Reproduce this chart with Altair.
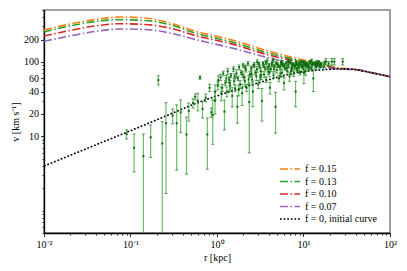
import altair as alt
import pandas as pd

FONT = "Liberation Serif"

# ---- model curves ----
r_curve = [0.01, 0.02, 0.0389, 0.0757, 0.147, 0.286, 0.557, 1.49, 3.59, 7.98, 15.5, 26.4, 39.4, 55.7, 100]
v_f015 = [269, 324, 372, 403, 390, 334, 261, 197, 145, 113, 95, 83, 79.2, 73.3, 63.4]
v_f013 = [253, 305, 350, 370, 361, 317, 245, 185, 136, 108, 92.5, 81.7, 79.2, 73.3, 63.4]
v_f010 = [223, 265, 305, 327, 319, 286, 227, 175, 128, 103, 89.6, 81, 79.2, 73.3, 63.4]
v_f007 = [190, 223, 257, 278, 273, 245, 201, 154, 117, 94, 85.5, 80, 79.2, 73.3, 63.4]
v_f0 = [3.98, 5.53, 7.6, 10.4, 14.3, 19.8, 27.4, 40.7, 55.4, 71, 78, 80.4, 79.2, 73.3, 63.4]

series_names = ["f = 0.15", "f = 0.13", "f = 0.10", "f = 0.07", "f = 0, initial curve"]
series_colors = ["#ff7f0e", "#2ca02c", "#d62728", "#9467bd", "#000000"]
series_dash = [[8, 2.5, 1.5, 2.5]] * 4 + [[1.8, 1.8]]

# ---- observed points (r [kpc], v [km/s], error) ----
obs_r = [0.090, 0.110, 0.141, 0.171, 0.210, 0.233, 0.257, 0.307, 0.342, 0.380,
         0.444, 0.471, 0.528, 0.560, 0.636, 0.680, 0.600, 0.773, 0.740, 0.820,
         0.892, 0.860, 0.950, 1.035, 1.10, 1.15, 1.18, 1.22, 1.25, 1.30,
         1.33, 1.38, 1.42, 1.45, 1.50, 1.55, 1.58, 1.62, 1.68, 1.72,
         1.75, 1.80, 1.85, 1.90, 1.95, 2.00, 2.05, 2.10, 2.15, 2.20,
         2.28, 2.36, 2.40, 2.48, 2.55, 2.60, 2.70, 2.78, 2.85, 2.92,
         3.00, 3.10, 3.20, 3.30, 3.40, 3.50, 3.60, 3.70, 3.80, 3.90,
         4.00, 4.10, 4.20, 4.35, 4.50, 4.60, 4.75, 4.90, 5.00, 5.20,
         5.35, 5.50, 5.65, 5.80, 5.95, 6.10, 6.30, 6.50, 6.70, 6.90,
         7.10, 7.30, 7.50, 7.70, 7.90, 8.10, 8.30, 8.50, 8.70, 8.90,
         9.10, 9.40, 9.70, 10.0, 10.1, 10.3, 10.6, 11.0, 11.4, 11.8,
         12.2, 12.6, 13.0, 13.5, 14.0, 14.5, 15.0, 15.5, 16.0, 17.0,
         18.2, 21.2, 22.7, 28.4,
         2.5, 2.65, 2.9, 3.05, 3.25, 3.45, 3.65, 3.85, 4.05, 4.3,
         4.55, 4.8, 5.1, 5.4, 5.7, 6.0, 6.4, 6.8, 7.2, 7.6,
         8.0, 8.4, 8.8, 9.2, 9.6, 10.2, 10.8, 11.5, 12.0, 12.8,
         13.8, 14.8, 15.8, 17.5, 19.5, 1.12, 1.28, 1.4, 1.6, 1.78,
         1.98, 2.12, 2.32, 0.95, 1.02, 3.15, 4.45, 5.55, 6.6, 7.4,
         8.2, 9.9, 11.2, 12.4, 14.2]
obs_v = [10.7, 7.0, 5.4, 9.7, 57, 8.0, 15.0, 19.0, 15.0, 21.0,
         10.6, 22, 28, 34, 61.7, 23.4, 30, 10.6, 33, 45,
         19.3, 21, 30, 57, 62, 45, 70, 21.5, 52, 40,
         75, 58, 48, 66, 35, 80, 55, 44, 70, 25,
         60, 85, 50, 72, 38, 90, 62, 55, 78, 45,
         95, 29, 68, 83, 58, 40, 92, 72, 64, 100,
         50, 86, 76, 30, 96, 68, 82, 58, 102, 74,
         90, 45, 80, 98, 66, 88, 25, 78, 94, 60,
         85, 100, 72, 90, 52, 82, 96, 75, 88, 64,
         99, 80, 92, 70, 86, 40, 95, 78, 90, 84,
         72, 98, 88, 80, 71, 92, 76, 95, 86, 100,
         82, 90, 60, 96, 85, 92, 100, 88, 94, 86,
         101, 101, 101, 101,
         70, 88, 80, 95, 66, 88, 98, 84, 72, 92,
         80, 96, 88, 70, 98, 90, 84, 100, 76, 94,
         88, 82, 98, 92, 86, 96, 90, 84, 98, 94,
         90, 97, 92, 98, 95, 38, 60, 52, 64, 42,
         68, 86, 58, 40, 48, 62, 106, 92, 104, 86,
         100, 100, 90, 104, 98]
obs_e = [1.5, 3.7, 5.3, 4.5, 8, 7.7, 13.3, 4.3, 11.5, 9.8,
         7.5, 6, 4, 3, 3.2, 5.8, 8, 7.0, 4, 5,
         11.5, 3, 10, 8, 6, 5, 5, 9.3, 4, 6,
         7, 5, 8, 4, 10, 6, 5, 4, 8, 10,
         4, 6, 6, 5, 12, 6, 5, 8, 5, 5,
         6, 23, 6, 5, 10, 15, 6, 5, 8, 7,
         6, 5, 8, 14, 5, 6, 5, 5, 8, 6,
         5, 8, 6, 6, 5, 4, 14, 7, 5, 6,
         5, 6, 8, 5, 10, 4, 5, 7, 5, 9,
         6, 5, 4, 6, 7, 15, 5, 6, 4, 9,
         5, 6, 5, 7, 20, 4, 10, 5, 6, 5,
         4, 7, 20, 5, 6, 4, 5, 6, 5, 8,
         10, 10, 10, 10,
         6, 5, 7, 4, 8, 5, 6, 4, 9, 5,
         6, 5, 4, 8, 6, 5, 7, 5, 9, 4,
         6, 8, 5, 6, 4, 5, 7, 6, 5, 4,
         6, 5, 7, 5, 6, 8, 6, 10, 5, 7,
         6, 5, 8, 9, 6, 5, 7, 4, 6, 5,
         6, 4, 7, 5, 6]

# ---- tables ----
curve_rows = []
for name, vals in zip(series_names, [v_f015, v_f013, v_f010, v_f007, v_f0]):
    for r, v in zip(r_curve, vals):
        curve_rows.append({"r": r, "v": v, "series": name})
curves = pd.DataFrame(curve_rows)

obs = pd.DataFrame({"r": obs_r, "v": obs_v, "e": obs_e})
obs["hi"] = obs["v"] + obs["e"]
obs["lo"] = (obs["v"] - obs["e"]).clip(lower=0.3)

# ---- ticks ----
x_ticks = [m * 10.0 ** k for k in range(-2, 2) for m in range(1, 10)] + [100.0]
y_ticks = [0.5, 0.6, 0.7, 0.8, 0.9] + [m * 10.0 ** k for k in range(0, 2) for m in range(1, 10)] + [100, 200, 300, 400, 500]

x_label_expr = ("datum.value == 0.01 ? '10⁻²' : datum.value == 0.1 ? '10⁻¹' : "
                "datum.value == 1 ? '10⁰' : datum.value == 10 ? '10¹' : "
                "datum.value == 100 ? '10²' : ''")
y_label_expr = "indexof([10, 20, 40, 60, 100, 200], datum.value) >= 0 ? datum.value : ''"

x_scale = alt.Scale(type="log", domain=[0.01, 100], nice=False)
y_scale = alt.Scale(type="log", domain=[0.5, 500], nice=False)

x_axis = alt.Axis(
    values=x_ticks, labelExpr=x_label_expr, title="r [kpc]",
    tickSize=alt.condition("indexof([0.01, 0.1, 1, 10, 100], datum.value) >= 0", alt.value(3.5), alt.value(2)),
    labelOverlap=False, labelFlush=False, grid=False, labelPadding=3, titlePadding=3,
)
y_axis = alt.Axis(
    values=y_ticks, labelExpr=y_label_expr, title="v [km s⁻¹]",
    tickSize=alt.condition("indexof([10, 20, 40, 60, 100, 200], datum.value) >= 0", alt.value(3.5), alt.value(2)),
    labelOverlap=False, grid=False, labelPadding=2, titlePadding=3,
)

legend = alt.Legend(
    title=None, orient="none", legendX=235, legendY=153,
    symbolType="M-1,0H3", symbolSize=100, symbolStrokeWidth=1.6,
    labelFont=FONT, labelFontSize=10, labelOffset=14, rowPadding=1.5, padding=0,
)

lines = alt.Chart(curves).mark_line(strokeWidth=1.6, interpolate="monotone", clip=True).encode(
    x=alt.X("r:Q", scale=x_scale, axis=x_axis),
    y=alt.Y("v:Q", scale=y_scale, axis=y_axis),
    color=alt.Color("series:N", scale=alt.Scale(domain=series_names, range=series_colors), legend=legend),
    strokeDash=alt.StrokeDash("series:N", scale=alt.Scale(domain=series_names, range=series_dash), legend=legend),
)

base = alt.Chart(obs)
bars = base.mark_rule(color="#2ca02c", opacity=0.7, strokeWidth=1.2, clip=True).encode(
    x=alt.X("r:Q", scale=x_scale), y=alt.Y("lo:Q", scale=y_scale), y2="hi:Q"
)
cap_hi = base.mark_tick(orient="horizontal", color="#127812", size=3, thickness=1, clip=True).encode(
    x=alt.X("r:Q", scale=x_scale), y=alt.Y("hi:Q", scale=y_scale)
)
cap_lo = base.mark_tick(orient="horizontal", color="#127812", size=3, thickness=1, clip=True).encode(
    x=alt.X("r:Q", scale=x_scale), y=alt.Y("lo:Q", scale=y_scale)
)
pts = base.mark_square(color="#0b6b0b", size=4, opacity=1, clip=True).encode(
    x=alt.X("r:Q", scale=x_scale), y=alt.Y("v:Q", scale=y_scale)
)

chart = alt.layer(lines, bars, cap_hi, cap_lo, pts).properties(
    width=346, height=223, autosize="none",
    padding={"left": 36, "top": 2, "right": 9, "bottom": 30},
).configure_view(
    stroke="#808080", strokeWidth=1.5
).configure_axis(
    labelFont=FONT, titleFont=FONT, labelFontSize=10, titleFontSize=10,
    titleFontWeight="normal", labelColor="black", titleColor="black",
    domainColor="black", domainWidth=1.3, tickColor="black", tickWidth=0.8,
)

chart.save("out.html", embed_options={"renderer": "svg", "actions": False})
